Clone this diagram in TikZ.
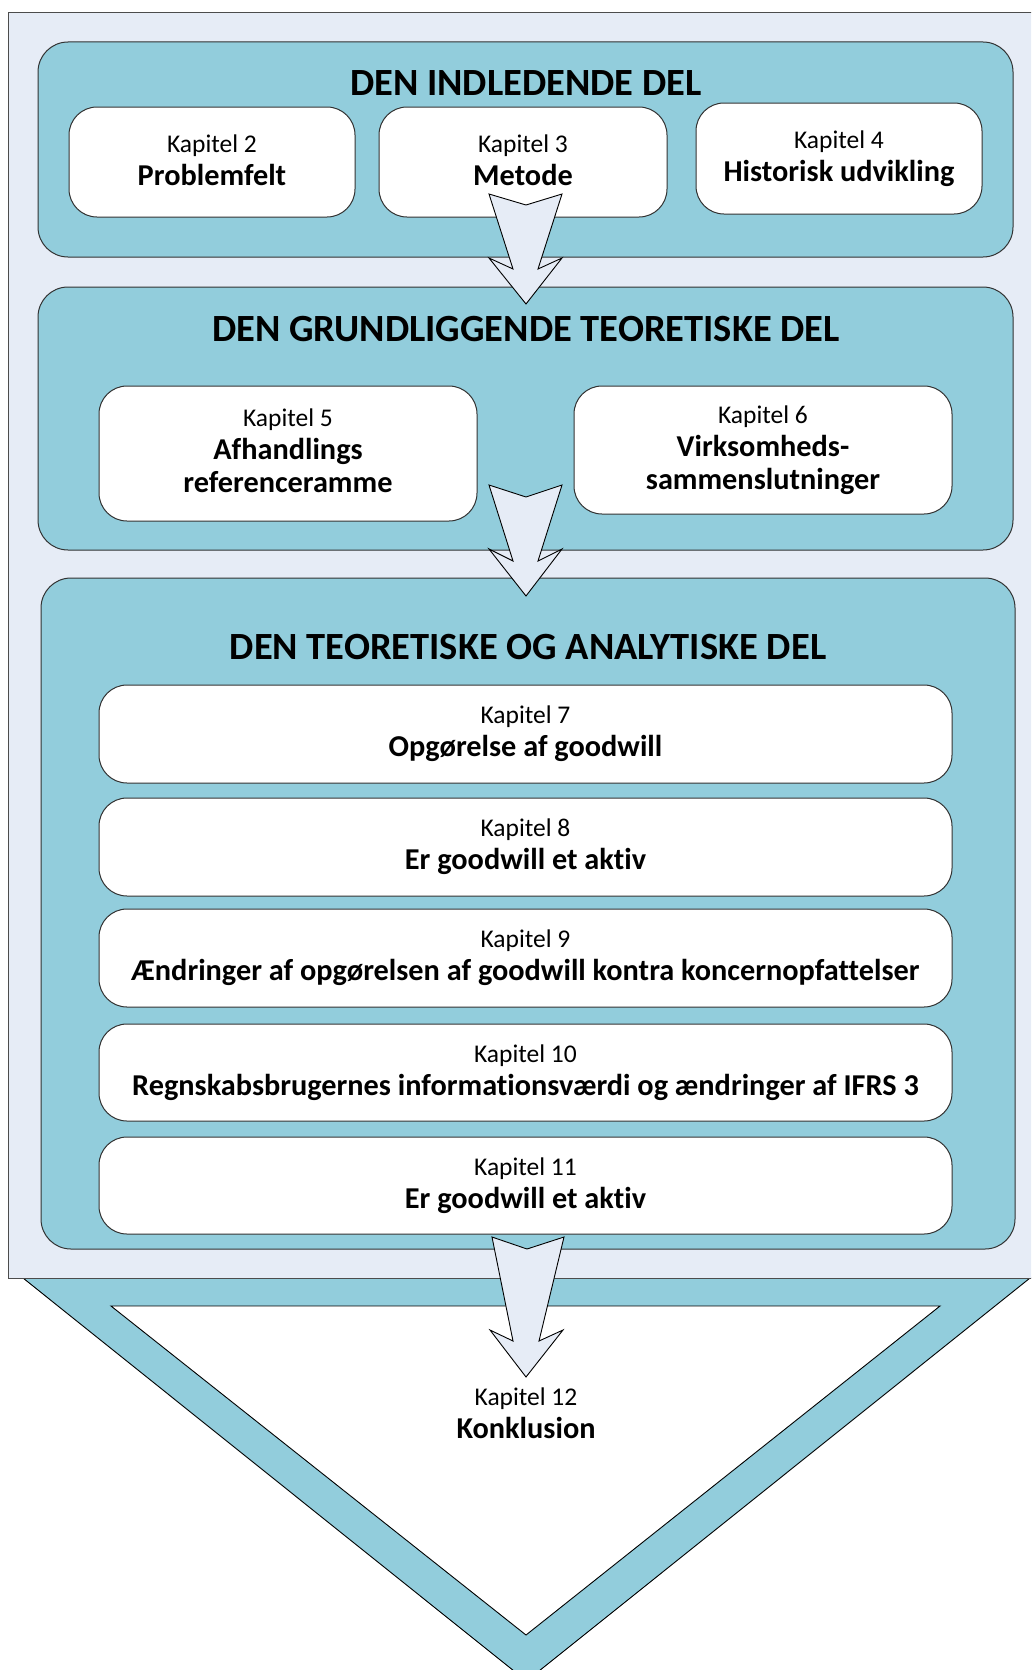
\documentclass[tikz,border=0pt]{standalone}
\usepackage{fontspec}
\setmainfont{Carlito}[Ligatures={NoCommon,NoRare,NoContextual},Contextuals=NoAlternate]
\definecolor{teal1}{RGB}{146,205,220}
\definecolor{light1}{RGB}{230,236,246}
\definecolor{edge1}{RGB}{50,50,50}
\newcommand{\kap}{\fontsize{25.5}{33}\selectfont}
\newcommand{\bld}{\bfseries\fontsize{30.3}{33}\selectfont}
\newcommand{\ttl}{\bfseries\fontsize{38.5}{40}\selectfont}
\begin{document}
\begin{tikzpicture}[x=1pt,y=-1pt,
  tealbox/.style={fill=teal1,draw=edge1,line width=1pt,rounded corners=30pt},
  whitebox/.style={fill=white,draw=edge1,line width=1pt,rounded corners=28pt,align=center,font=\kap,inner sep=0pt},
  titletext/.style={font=\ttl,inner sep=0pt},
  blockarrow/.style={fill=light1,draw=black,line width=0.9pt,line join=miter}]
\useasboundingbox (0,0) rectangle (1031,1670);
\clip (0,0) rectangle (1031,1670);
% chevron
\draw[fill=teal1,draw=black,line width=0.9pt] (23,1278) -- (1030,1278) -- (526.5,1681) -- cycle;
\draw[fill=white,draw=black,line width=0.9pt] (111,1306) -- (940,1306) -- (526,1635) -- cycle;
% outer light rectangle
\draw[fill=light1,draw=black!70,line width=1pt] (8,13) rectangle (1045,1278);
% teal sections
\draw[tealbox] (38,42) rectangle (1013,257);
\draw[tealbox] (38,287) rectangle (1013,550);
\draw[tealbox] (41,578) rectangle (1015,1249);
% titles
\node[titletext] (t1) at (526,83) {DEN INDLEDENDE DEL};
\node[titletext] (t2) at (526,329) {DEN GRUNDLIGGENDE TEORETISKE DEL};
\node[titletext] (t3) at (528,647) {DEN TEORETISKE OG ANALYTISKE DEL};
% white boxes
\node[whitebox,minimum width=286pt,minimum height=110pt] (k2) at (212,162) {};
\node[whitebox,minimum width=288pt,minimum height=110pt] (k3) at (523,162) {};
\node[whitebox,minimum width=286pt,minimum height=111pt] (k4) at (839,158.5) {Kapitel 4\\{\bld Historisk udvikling}};
\node[whitebox,minimum width=378pt,minimum height=135pt] (k5) at (288,453.5) {};
\node[whitebox,minimum width=378pt,minimum height=128pt] (k6) at (763,450) {Kapitel 6\\{\bld Virksomheds-}\\{\bld sammenslutninger}};
\node[whitebox,minimum width=853pt,minimum height=98pt] (k7) at (525.5,734) {Kapitel 7\\{\bld Opgørelse af goodwill}};
\node[whitebox,minimum width=853pt,minimum height=98pt] (k8) at (525.5,847) {Kapitel 8\\{\bld Er goodwill et aktiv}};
\node[whitebox,minimum width=853pt,minimum height=98pt] (k9) at (525.5,958) {Kapitel 9\\{\bld Ændringer af opgørelsen af goodwill kontra koncernopfattelser}};
\node[whitebox,minimum width=853pt,minimum height=97pt] (k10) at (525.5,1072.5) {Kapitel 10\\{\bld Regnskabsbrugernes informationsværdi og ændringer af IFRS 3}};
\node[whitebox,minimum width=853pt,minimum height=97pt] (k11) at (525.5,1185.5) {Kapitel 11\\{\bld Er goodwill et aktiv}};
% texts shifted slightly up
\node[align=center,font=\kap,inner sep=0pt] (k2t) at ([yshift=2pt]k2.center) {Kapitel 2\\{\bld Problemfelt}};
\node[align=center,font=\kap,inner sep=0pt] (k3t) at ([yshift=2pt]k3.center) {Kapitel 3\\{\bld Metode}};
\node[align=center,font=\kap,inner sep=0pt] (k5t) at ([yshift=2.5pt]k5.center) {Kapitel 5\\{\bld Afhandlings}\\{\bld referenceramme}};
% block arrows
\draw[blockarrow] (489,194) -- (526,205) -- (562,194) -- (538,269) -- (562,258) -- (526,304) -- (489,258) -- (513,269) -- cycle;
\draw[blockarrow] (489,485) -- (526,497) -- (562,485) -- (538,561) -- (562,549) -- (526,596) -- (489,549) -- (513,561) -- cycle;
\draw[blockarrow] (492,1237) -- (527,1249) -- (564,1237) -- (539,1341) -- (563,1330) -- (526,1377) -- (490,1330) -- (513,1341) -- cycle;
% conclusion
\node[align=center,font=\kap,inner sep=0pt] (k12) at (526,1413) {Kapitel 12\\{\bld Konklusion}};
\end{tikzpicture}
\end{document}
